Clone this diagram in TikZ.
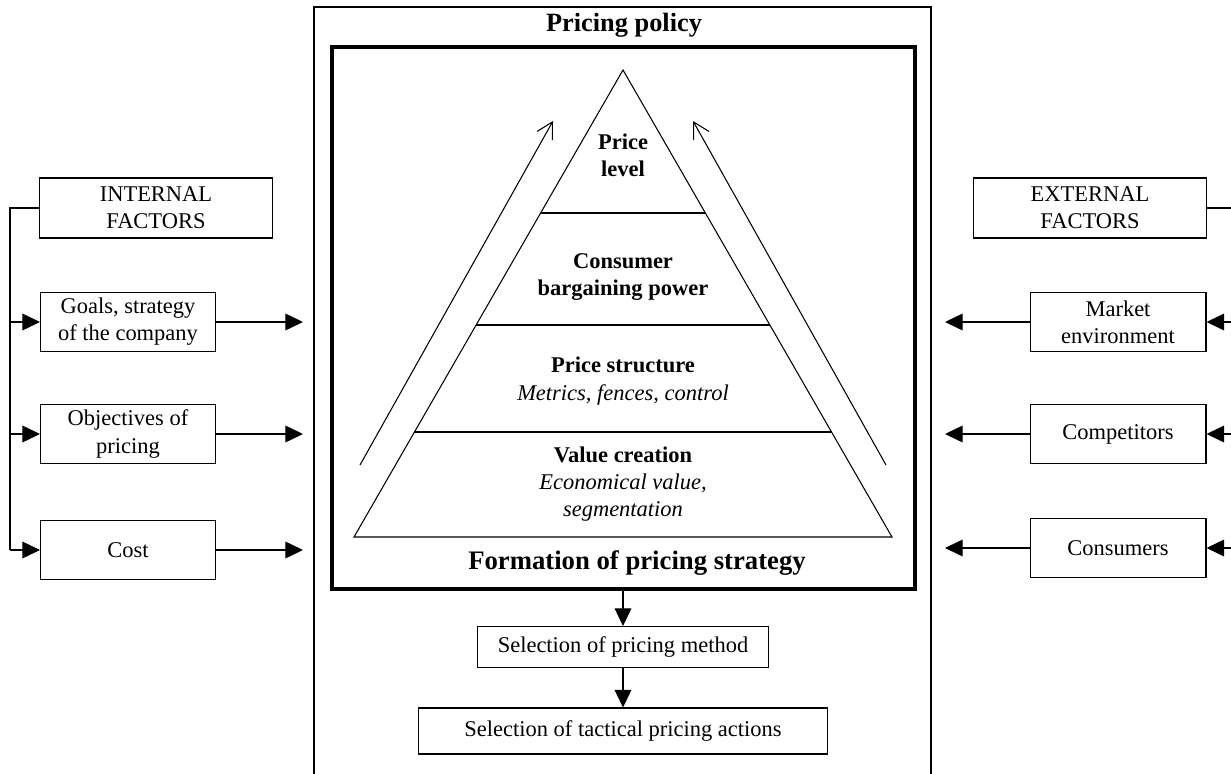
\documentclass[tikz,border=0pt]{standalone}
\usepackage{fontspec}
\setmainfont{Liberation Serif}
\usetikzlibrary{arrows.meta,positioning,calc}

\tikzset{
  every node/.style={font=\fontsize{12.8}{15.5}\selectfont},
  factor/.style={draw,line width=0.6pt,align=center,inner sep=0pt,
    minimum width=3.5cm,minimum height=1.18cm},
  group/.style={factor,minimum width=4.66cm,minimum height=1.2cm},
  stage/.style={draw,line width=0.6pt,inner sep=0pt,minimum height=0.82cm},
  layer/.style={align=center,inner sep=0pt},
  fact arrow/.style={line width=0.6pt,-{Triangle[length=10pt,width=9.5pt]}},
  rise/.style={line width=0.6pt,-{Straight Barb[length=9pt,width=10pt,line width=0.6pt]}}
}

\begin{document}
\begin{tikzpicture}[x=0.02cm,y=-0.02cm,line width=0.6pt]
    \clip[use as bounding box] (0,0) rectangle (1231,774);

    % pricing policy frame
    \draw (314,790) |- (931,7) -- (931,790);
    \node (policy) at (624,25) {\fontsize{15}{17}\selectfont\bfseries Pricing policy};
    \draw[line width=2.2pt] (332,47) rectangle (915,589);
    \node (formation) at (637,563) {\fontsize{15.2}{18}\selectfont\bfseries Formation of pricing strategy};

    % pyramid
    \coordinate (top) at (623,70);
    \coordinate (bl) at (354,537);
    \coordinate (br) at (892,537);
    \draw (bl) -- (top) -- (br) -- cycle;
    \foreach \y in {213,325,432} {
      \draw ($(top)!{(\y-70)/467}!(bl)$) -- ($(top)!{(\y-70)/467}!(br)$);
    }
    \node[layer] (level) at (623,155) {\bfseries Price\\\bfseries level};
    \node[layer] (power) at (623,277) {\bfseries Consumer\\\bfseries bargaining power};
    \node[layer] (structure) at (623,381) {\bfseries Price structure\\\itshape Metrics, fences, control};
    \node[layer] (value) at (623,484) {\bfseries Value creation\\\itshape Economical value,\\\itshape segmentation};
    \draw[rise] (360,465) -- (553,121);
    \draw[rise] (886,465) -- (693,121);

    % internal factors
    \node[group] (internal) at (156,208) {INTERNAL\\FACTORS};
    \node[factor] (goals) at (128,322) {Goals, strategy\\of the company};
    \node[factor] (objectives) at (128,434) {Objectives of\\pricing};
    \node[factor] (cost) at (128,550) {Cost};
    \coordinate (lbus) at (10,208);
    \coordinate (lout) at (303,0);
    \draw (internal.west) -- (lbus) -- (lbus |- cost.west);
    \foreach \f in {goals,objectives,cost} {
      \draw[fact arrow] (lbus |- \f.west) -- (\f.west);
      \draw[fact arrow] (\f.east) -- (lout |- \f.east);
    }

    % external factors
    \node[group] (external) at (1090,208) {EXTERNAL\\FACTORS};
    \node[factor,minimum width=3.52cm] (market) at (1118,322) {Market\\environment};
    \node[factor,minimum width=3.52cm] (competitors) at (1118,434) {Competitors};
    \node[factor,minimum width=3.52cm] (consumers) at (1118,548) {Consumers};
    \coordinate (rbus) at (1241,208);
    \coordinate (rout) at (945,0);
    \draw (external.east) -- (rbus) -- (rbus |- consumers.east);
    \foreach \f in {market,competitors,consumers} {
      \draw[fact arrow] (rbus |- \f.east) -- (\f.east);
      \draw[fact arrow] (\f.west) -- (rout |- \f.west);
    }

    % selection steps
    \node[stage,minimum width=5.82cm] (method) at (623,647) {Selection of pricing method};
    \node[stage,minimum width=8.2cm,minimum height=0.92cm] (tactics) at (623,731) {Selection of tactical pricing actions};
    \draw[fact arrow] (623,589) -- (method.north);
    \draw[fact arrow] (method) -- (tactics);
  \end{tikzpicture}
\end{document}
